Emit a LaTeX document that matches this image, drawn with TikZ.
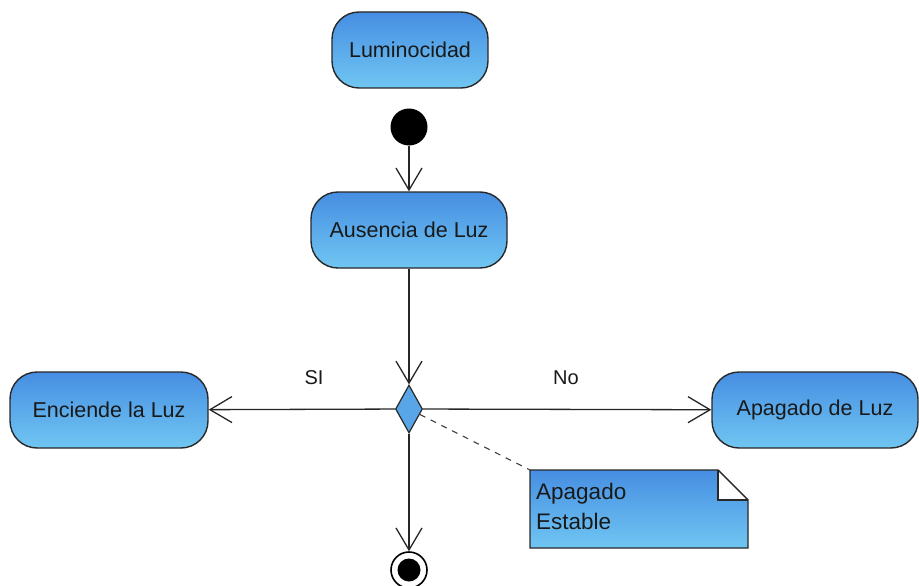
\documentclass[tikz,border=0pt]{standalone}
\usepackage{fontspec}
\setmainfont{Liberation Sans}
\usetikzlibrary{shapes.geometric,arrows.meta,calc}
\definecolor{boxtop}{RGB}{70,142,226}
\definecolor{boxbot}{RGB}{112,198,242}
\definecolor{decfill}{RGB}{88,166,232}
\definecolor{edge}{RGB}{40,40,40}
\begin{document}
\begin{tikzpicture}[x=1pt,y=-1pt,
  activity/.style={draw=edge, line width=1.4pt, rounded corners=27pt,
    top color=boxtop, bottom color=boxbot, minimum height=76pt,
    inner sep=0pt, font=\fontsize{21.5}{26}\selectfont, text=black!90},
  flow/.style={line width=1.3pt, draw=black!85,
    -{Straight Barb[length=22pt,width=26pt,line width=1.3pt]}},
  guard/.style={font=\fontsize{20}{24}\selectfont, text=black!90},
  notetext/.style={font=\fontsize{22.5}{30}\selectfont, text=black!90,
    align=left, inner sep=0pt, anchor=north west}]
\useasboundingbox (0,0) rectangle (919,586);

% activities
\node[activity, minimum width=156pt] (lum) at (410,50) {Luminocidad};
\node[activity, minimum width=196pt] (aus) at (409,230) {Ausencia de Luz};
\node[activity, minimum width=198pt] (enc) at (109,410) {Enciende la Luz};
\node[activity, minimum width=206pt] (apa) at (815,410) {Apagado de Luz};

% initial and final states
\node[circle, fill=black, minimum size=37pt, inner sep=0pt] (init) at (409,127) {};
\node[circle, draw=black, line width=1.6pt, minimum size=36pt, inner sep=0pt,
  path picture={\fill[black] (path picture bounding box.center) circle (11.5pt);}]
  (final) at (409,570) {};

% decision
\node[diamond, draw=edge, line width=1.2pt, fill=decfill, minimum width=27pt,
  minimum height=48pt, inner sep=0pt] (dec) at (409,409) {};

% note with folded corner
\coordinate (nw) at (530,470);
\coordinate (se) at (748,548);
\shade[top color=boxtop, bottom color=boxbot, draw=edge, line width=1.4pt]
  (nw) -- (718,470) -- (748,500) -- (se) -- (530,548) -- cycle;
\fill[white] (718,470) -- (748,500) -- (718,500) -- cycle;
\draw[edge, line width=1.4pt] (718,470) -- (718,500) -- (748,500);
\draw[edge, line width=1.4pt] (718,470) -- (748,500);
\node[notetext] (note) at (536,483) {Apagado\\Estable};

% transitions
\draw[flow] (init) -- (aus);
\draw[flow] (aus) -- (dec);
\draw[flow] (dec) -- (enc);
\draw[flow] (dec) -- (apa);
\draw[flow] (dec) -- (final);
\draw[line width=1.1pt, black!75, dash pattern=on 6pt off 6pt] (dec) -- (nw);

% guards
\node[guard] (si) at (314,378) {SI};
\node[guard] (no) at (566,378) {No};
\end{tikzpicture}
\end{document}
